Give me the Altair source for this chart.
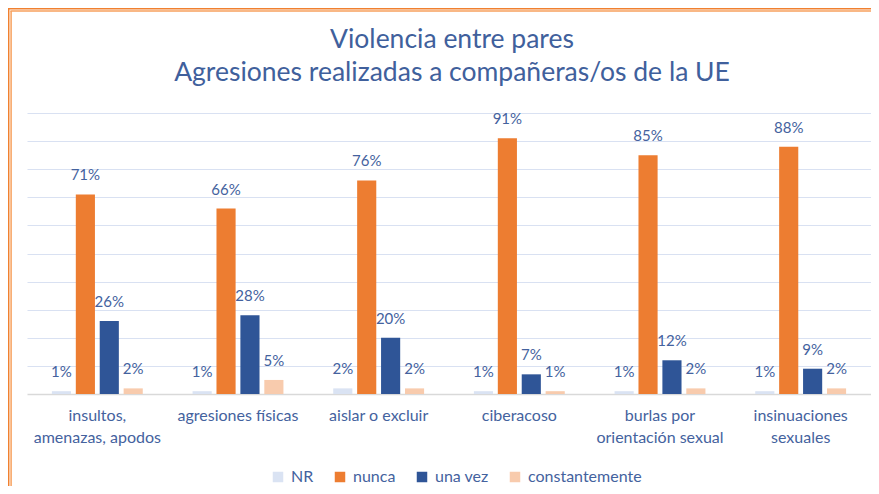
import altair as alt
import pandas as pd

categories = ["insultos, amenazas, apodos", "agresiones físicas", "aislar o excluir",
              "ciberacoso", "burlas por orientación sexual", "insinuaciones sexuales"]
category_lines = [["insultos,", "amenazas, apodos"], ["agresiones físicas"], ["aislar o excluir"],
                  ["ciberacoso"], ["burlas por", "orientación sexual"], ["insinuaciones", "sexuales"]]
series = ["NR", "nunca", "una vez", "constantemente"]
nr = [0.01, 0.01, 0.02, 0.01, 0.01, 0.01]
nunca = [0.71, 0.66, 0.76, 0.91, 0.85, 0.88]
una_vez = [0.26, 0.28, 0.20, 0.07, 0.12, 0.09]
constantemente = [0.02, 0.05, 0.02, 0.01, 0.02, 0.02]
colors = ["#DAE3F3", "#ED7D31", "#2F5597", "#F8CBAD"]
title_lines = ["Violencia entre pares", "Agresiones realizadas a compañeras/os de la UE"]

rows = []
for i, c in enumerate(categories):
    for s, vals in zip(series, [nr, nunca, una_vez, constantemente]):
        rows.append({"categoria": c, "serie": s, "valor": vals[i]})
df = pd.DataFrame(rows)

label_expr = ""
for c, lines in zip(categories, category_lines):
    arr = "[" + ",".join("'" + l + "'" for l in lines) + "]"
    label_expr += f"datum.label == '{c}' ? {arr} : "
label_expr += "datum.label"

FONT = "Lato"
TXT = "#44629E"
TITLE_COLOR = "#40609C"
PLOT_W = 844

x = alt.X("categoria:N", sort=categories, title=None,
          scale=alt.Scale(paddingInner=0.32, paddingOuter=0.16),
          axis=alt.Axis(labelAngle=0, ticks=False, domainColor="#D9D9D9", domainWidth=1.5,
                        labelPadding=13, labelLineHeight=22, labelFontSize=16, labelFont=FONT,
                        labelColor=TXT, labelExpr=label_expr, labelBaseline="top"))
y = alt.Y("valor:Q", title=None, scale=alt.Scale(domain=[0, 1]),
          axis=alt.Axis(labels=False, ticks=False, domain=False, grid=True,
                        gridColor="#D9E1F2", gridWidth=1.2,
                        values=[0.1, 0.2, 0.3, 0.4, 0.5, 0.6, 0.7, 0.8, 0.9, 1.0]))
xo = alt.XOffset("serie:N", sort=series,
                 scale=alt.Scale(paddingInner=0.2, paddingOuter=0.1))

base = alt.Chart(df)
bars = base.mark_bar().encode(
    x=x, y=y, xOffset=xo,
    color=alt.Color("serie:N", sort=series,
                    scale=alt.Scale(domain=series, range=colors),
                    legend=alt.Legend(title=None, orient="none", legendX=243, legendY=356,
                                      direction="horizontal", symbolType="square",
                                      symbolSize=110, symbolStrokeWidth=0,
                                      labelFontSize=16, labelFont=FONT, labelColor=TXT,
                                      columnPadding=18, labelOffset=5)),
)
labels = base.mark_text(baseline="alphabetic", dy=-14, fontSize=15, font=FONT, color=TXT).encode(
    x=x, y=y, xOffset=xo,
    text=alt.Text("valor:Q", format=".0%"),
)

# chart title, two lines, drawn as text marks above the plot area
title1 = alt.Chart(pd.DataFrame({"linea": title_lines[:1]})).mark_text(
    font=FONT, fontSize=26.5, color=TITLE_COLOR, align="center", baseline="alphabetic").encode(
    text="linea:N", x=alt.value(PLOT_W / 2 + 3), y=alt.value(-65))
title2 = alt.Chart(pd.DataFrame({"linea": title_lines[1:]})).mark_text(
    font=FONT, fontSize=26.5, color=TITLE_COLOR, align="center", baseline="alphabetic").encode(
    text="linea:N", x=alt.value(PLOT_W / 2 + 3), y=alt.value(-32))

frame = pd.DataFrame({"k": [0]})
fb = alt.Chart(frame)
rules = alt.layer(
    fb.mark_rule(color="#F08030", strokeWidth=1.5).encode(x=alt.value(-18.3), y=alt.value(-106), y2=alt.value(420)),
    fb.mark_rule(color="#F7A15E", strokeWidth=1.5).encode(x=alt.value(-15.9), y=alt.value(-102), y2=alt.value(420)),
    fb.mark_rule(color="#F08030", strokeWidth=1.5).encode(y=alt.value(-104.3), x=alt.value(-19), x2=alt.value(900)),
    fb.mark_rule(color="#F7A15E", strokeWidth=1.5).encode(y=alt.value(-101.9), x=alt.value(-16.6), x2=alt.value(900)),
)

chart = alt.layer(bars, labels, title1, title2, rules).properties(
    width=PLOT_W, height=281,
    autosize=alt.AutoSizeParams(type="none"),
    padding={"left": 19, "top": 105, "right": 0, "bottom": 92},
).configure_view(stroke=None)

chart.save("out.html", embed_options={"renderer": "svg", "actions": False})
